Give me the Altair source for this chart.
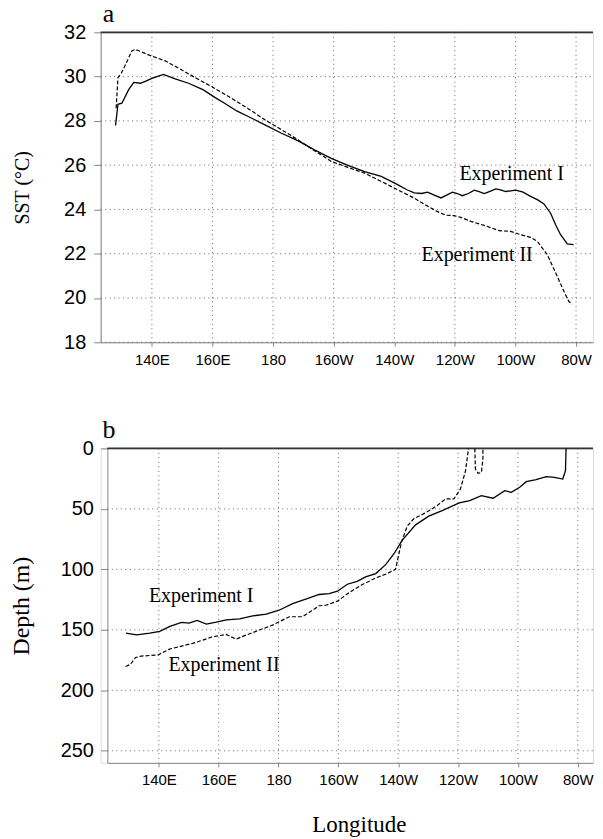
import altair as alt
import pandas as pd

# ---------------- Panel a: SST along the equator ----------------
a_exp1_lon = [128.0, 128.8, 130.1, 132.3, 134.0, 136.2, 138.0, 140.0, 143.8, 147.7,
              152.1, 157.0, 160.9, 164.0, 168.0, 171.8, 177.3, 182.8, 188.3, 193.5,
              199.2, 204.5, 210.2, 215.7, 221.1, 224.0, 226.6, 229.0, 231.0, 233.2,
              235.4, 237.3, 239.2, 240.8, 242.5, 244.5, 246.4, 248.0, 249.7, 251.6,
              253.5, 255.1, 256.8, 258.5, 260.1, 262.5, 265.0, 267.5, 269.4, 271.6,
              273.3, 274.9, 277.1, 279.2]
a_exp1_sst = [27.79, 28.75, 28.80, 29.40, 29.74, 29.70, 29.80, 29.92, 30.10, 29.90,
              29.70, 29.40, 29.05, 28.80, 28.45, 28.20, 27.82, 27.44, 27.10, 26.70,
              26.31, 26.00, 25.71, 25.49, 25.12, 24.90, 24.75, 24.72, 24.78, 24.65,
              24.52, 24.65, 24.78, 24.72, 24.62, 24.72, 24.87, 24.80, 24.72, 24.82,
              24.93, 24.88, 24.81, 24.84, 24.87, 24.78, 24.59, 24.42, 24.25, 23.83,
              23.30, 22.86, 22.44, 22.41]

a_exp2_lon = [128.2, 128.8, 129.9, 131.5, 133.4, 134.5, 136.5, 138.9, 144.4, 149.9,
              155.0, 159.7, 166.3, 171.8, 177.3, 182.8, 188.3, 193.7, 199.2, 204.7,
              210.2, 215.2, 220.1, 226.6, 231.0, 234.3, 237.0, 239.8, 242.0, 245.3,
              248.0, 250.8, 254.6, 258.4, 261.7, 265.0, 267.2, 270.5, 273.8, 276.0,
              277.6, 278.7]
a_exp2_sst = [28.57, 29.95, 30.15, 30.60, 31.16, 31.23, 31.12, 30.98, 30.71, 30.30,
              29.90, 29.55, 29.02, 28.55, 28.05, 27.60, 27.14, 26.65, 26.17, 25.90,
              25.64, 25.30, 24.96, 24.51, 24.15, 23.90, 23.74, 23.72, 23.64, 23.46,
              23.35, 23.23, 23.04, 23.01, 22.86, 22.74, 22.56, 21.96, 20.98, 20.30,
              19.85, 19.72]

# ---------------- Panel b: thermocline depth ----------------
b_exp1_lon = [129.0, 132.6, 137.0, 140.3, 143.7, 147.6, 150.1, 152.8, 155.9, 159.2,
              162.6, 167.0, 171.4, 175.9, 180.2, 184.7, 189.1, 193.6, 196.9, 199.7,
              203.0, 206.3, 209.1, 212.5, 215.8, 218.6, 221.3, 225.8, 230.2, 234.7,
              240.4, 243.9, 247.8, 251.7, 255.6, 257.8, 260.6, 262.8, 266.1, 269.5,
              272.2, 275.0, 275.9, 276.1]
b_exp1_dep = [152.7, 154.1, 152.7, 151.3, 147.2, 143.9, 144.5, 142.3, 145.3, 143.7,
              141.8, 141.0, 138.5, 137.1, 133.8, 128.3, 124.7, 120.8, 120.0, 118.1,
              112.3, 109.9, 106.3, 103.5, 96.1, 87.1, 76.1, 63.2, 56.0, 51.4,
              45.0, 43.2, 39.0, 41.2, 34.9, 36.3, 32.1, 27.5, 25.9, 23.4,
              23.9, 25.3, 18.4, 0.0]

b_exp2_lon = [128.9, 130.5, 132.2, 134.1, 139.7, 143.6, 146.9, 151.3, 154.7, 158.0,
              162.5, 165.8, 169.1, 173.6, 178.0, 180.2, 183.6, 188.0, 193.6, 195.8,
              199.7, 203.6, 208.0, 212.5, 216.3, 219.1, 221.1, 223.0, 225.2, 229.1,
              233.0, 235.8, 238.6, 240.8, 242.5, 243.5,
              245.6, 245.8, 246.7, 247.8, 248.3, 248.3]
b_exp2_dep = [180.4, 178.5, 173.0, 171.7, 170.8, 165.9, 163.9, 161.2, 158.5, 155.7,
              153.8, 157.7, 154.4, 150.2, 146.1, 143.3, 139.2, 139.2, 130.1, 129.7,
              126.3, 119.2, 112.6, 107.1, 103.5, 100.0, 77.4, 64.3, 58.2, 53.3,
              47.3, 41.8, 41.8, 33.5, 18.5, 0.0,
              0.0, 17.0, 20.6, 19.8, 8.8, 0.0]
b_exp2_part = [0] * 36 + [1] * 6

x_ticks = [140, 160, 180, 200, 220, 240, 260, 280]
sst_ticks = [18, 20, 22, 24, 26, 28, 30, 32]
depth_ticks = [0, 50, 100, 150, 200, 250]

SST_DOMAIN = [18, 32]
DEPTH_DOMAIN = [0, 260]
LON_A = [123.1, 285.6]
LON_B = [122.8, 285.1]

# annotation anchors (data units)
a_labels = pd.DataFrame({"text": ["Experiment I", "Experiment II"],
                         "lon": [241.5, 229.0], "sst": [25.34, 21.66]})
b_labels = pd.DataFrame({"text": ["Experiment I", "Experiment II"],
                         "lon": [136.7, 143.2], "depth": [126.9, 183.7]})
a_panel_tag = pd.DataFrame({"text": ["a"], "lon": [LON_A[0]], "sst": [SST_DOMAIN[1]]})
b_panel_tag = pd.DataFrame({"text": ["b"], "lon": [LON_B[0]], "depth": [DEPTH_DOMAIN[0]]})

# ---------------- build ----------------
lon_expr = ("datum.value < 180 ? datum.value + 'E' : "
            "(datum.value == 180 ? '180' : (360 - datum.value) + 'W')")

SERIF = "Liberation Serif"
SANS = "Liberation Sans"
GRID = dict(color="#666", strokeWidth=1, strokeDash=[1, 3.5])

W_A, H_A = 494, 311
W_B, H_B = 494, 315.5
B_SHIFT = 6.7   # panel b plot area starts a little to the right of panel a


def x_enc(domain, title=None, rng=None):
    sc = alt.Scale(domain=domain, nice=False, zero=False)
    if rng is not None:
        sc = alt.Scale(domain=domain, nice=False, zero=False, range=rng)
    axis_kw = dict(values=x_ticks, labelExpr=lon_expr, title=title,
                   titleFont=SERIF, titleFontSize=23, titleFontWeight="normal",
                   titlePadding=26, tickSize=4, labelPadding=6, labelFontSize=15,
                   labelFont=SANS, grid=False)
    if title is not None:
        axis_kw["titleX"] = 259
    return alt.X("lon:Q", scale=sc, axis=alt.Axis(**axis_kw))


df_a1 = pd.DataFrame({"lon": a_exp1_lon, "sst": a_exp1_sst, "i": range(len(a_exp1_lon))})
df_a2 = pd.DataFrame({"lon": a_exp2_lon, "sst": a_exp2_sst, "i": range(len(a_exp2_lon))})
df_b1 = pd.DataFrame({"lon": b_exp1_lon, "depth": b_exp1_dep, "i": range(len(b_exp1_lon))})
df_b2 = pd.DataFrame({"lon": b_exp2_lon, "depth": b_exp2_dep, "part": b_exp2_part,
                      "i": range(len(b_exp2_lon))})

# ----- panel a -----
xa = x_enc(LON_A)
ya = alt.Y("sst:Q", scale=alt.Scale(domain=SST_DOMAIN, nice=False, zero=False),
           axis=alt.Axis(values=sst_ticks, title="SST (°C)", titleFont=SERIF,
                         titleFontSize=20, titleFontWeight="normal", titlePadding=28,
                         minExtent=40, maxExtent=40, tickSize=7, labelPadding=8,
                         labelFontSize=20, labelFont=SANS, grid=False))

a_vgrid = alt.Chart(pd.DataFrame({"lon": x_ticks})).mark_rule(**GRID).encode(x=xa)
a_hgrid = alt.Chart(pd.DataFrame({"sst": sst_ticks, "lon": LON_A[0], "lon2": LON_A[1]})
                    ).mark_rule(**GRID).encode(x=xa, x2="lon2:Q", y=ya)
a_top = alt.Chart(pd.DataFrame({"sst": [SST_DOMAIN[1]], "lon": [LON_A[0]], "lon2": [LON_A[1]]})
                  ).mark_rule(color="#333", strokeWidth=1.6).encode(x=xa, x2="lon2:Q", y=ya)
a_line1 = alt.Chart(df_a1).mark_line(color="black", strokeWidth=1.3).encode(x=xa, y=ya, order="i:Q")
a_line2 = alt.Chart(df_a2).mark_line(color="black", strokeWidth=1.2, strokeDash=[4, 2]).encode(x=xa, y=ya, order="i:Q")
a_text = alt.Chart(a_labels).mark_text(font=SERIF, fontSize=20, align="left",
                                      baseline="alphabetic", color="black").encode(x=xa, y=ya, text="text:N")
a_tag = alt.Chart(a_panel_tag).mark_text(font=SERIF, fontSize=26, align="left",
                                        baseline="alphabetic", color="black", dx=2, dy=-10
                                        ).encode(x=xa, y=ya, text="text:N")

panel_a = alt.layer(a_vgrid, a_hgrid, a_top, a_line1, a_line2, a_text, a_tag
                    ).properties(width=W_A, height=H_A)

# ----- panel b -----
xb = x_enc(LON_B, title="Longitude", rng=[B_SHIFT, W_B])
yb = alt.Y("depth:Q", scale=alt.Scale(domain=DEPTH_DOMAIN, nice=False, zero=False, reverse=True),
           axis=alt.Axis(values=depth_ticks, title="Depth (m)", titleFont=SERIF,
                         titleFontSize=24, titleFontWeight="normal", titlePadding=24,
                         minExtent=50, maxExtent=50, tickSize=7, labelPadding=7,
                         labelFontSize=20, labelFont=SANS, grid=False, offset=-B_SHIFT))

b_vgrid = alt.Chart(pd.DataFrame({"lon": x_ticks})).mark_rule(**GRID).encode(x=xb)
b_hgrid = alt.Chart(pd.DataFrame({"depth": depth_ticks, "lon": LON_B[0], "lon2": LON_B[1]})
                    ).mark_rule(**GRID).encode(x=xb, x2="lon2:Q", y=yb)
b_top = alt.Chart(pd.DataFrame({"depth": [DEPTH_DOMAIN[0]], "lon": [LON_B[0]], "lon2": [LON_B[1]]})
                  ).mark_rule(color="#333", strokeWidth=1.6).encode(x=xb, x2="lon2:Q", y=yb)
b_line1 = alt.Chart(df_b1).mark_line(color="black", strokeWidth=1.3).encode(x=xb, y=yb, order="i:Q")
b_line2 = alt.Chart(df_b2).mark_line(color="black", strokeWidth=1.2, strokeDash=[4, 2]).encode(
    x=xb, y=yb, order="i:Q", detail="part:N")
b_text = alt.Chart(b_labels).mark_text(font=SERIF, fontSize=20, align="left",
                                      baseline="alphabetic", color="black").encode(x=xb, y=yb, text="text:N")
b_tag = alt.Chart(b_panel_tag).mark_text(font=SERIF, fontSize=26, align="left",
                                        baseline="alphabetic", color="black", dx=-5, dy=-10.5
                                        ).encode(x=xb, y=yb, text="text:N")

panel_b = alt.layer(b_vgrid, b_hgrid, b_top, b_line1, b_line2, b_text, b_tag
                    ).properties(width=W_B, height=H_B)

chart = alt.concat(panel_a, panel_b, columns=1, spacing=106.5, bounds="flush").properties(
    autosize=alt.AutoSizeParams(type="none"),
    padding={"left": 93, "top": 23, "right": 2, "bottom": 809}
).configure_view(stroke=None).configure_axis(
    domainColor="#333", domainWidth=1.6, tickColor="#333", tickWidth=1.2,
    labelColor="#222", titleColor="black"
).configure(background="white")

chart.save("out.html", embed_options={"renderer": "svg", "actions": False})
